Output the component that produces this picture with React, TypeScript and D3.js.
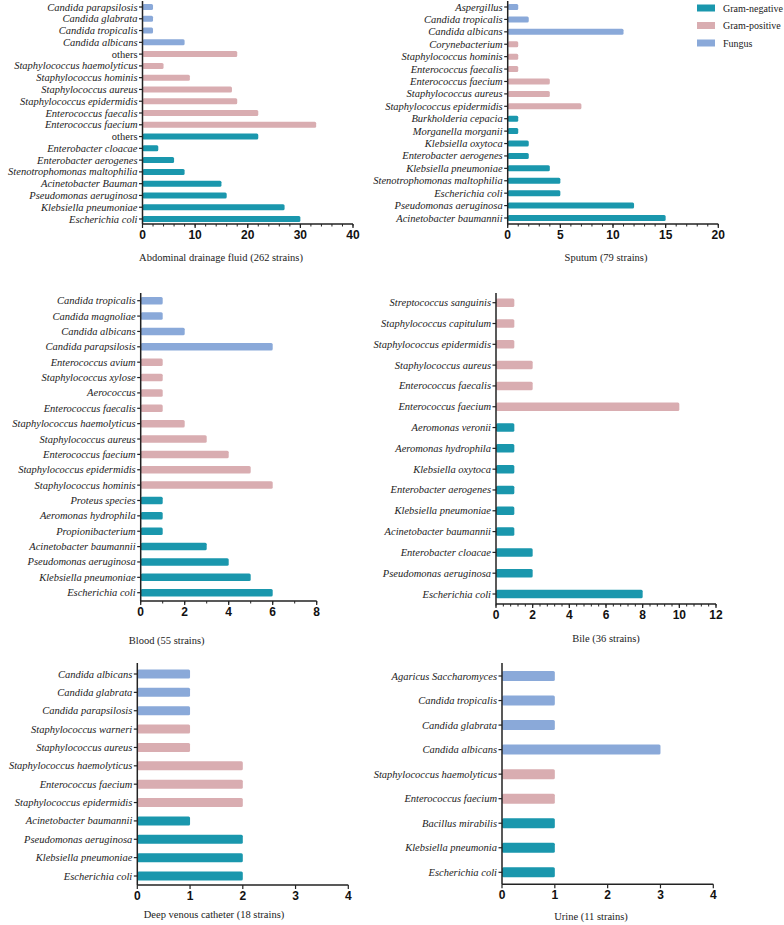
import * as React from 'react';
import * as d3 from 'd3';

// group codes: n = Gram-negative, p = Gram-positive, f = Fungus
const abdCategories = [
	'Candida parapsilosis', 'Candida glabrata', 'Candida tropicalis', 'Candida albicans',
	'others', 'Staphylococcus haemolyticus', 'Staphylococcus hominis', 'Staphylococcus aureus',
	'Staphylococcus epidermidis', 'Enterococcus faecalis', 'Enterococcus faecium',
	'others', 'Enterobacter cloacae', 'Enterobacter aerogenes', 'Stenotrophomonas maltophilia',
	'Acinetobacter Bauman', 'Pseudomonas aeruginosa', 'Klebsiella pneumoniae', 'Escherichia coli'
];
const abdValues = [2, 2, 2, 8, 18, 4, 9, 17, 18, 22, 33, 22, 3, 6, 8, 15, 16, 27, 30];
const abdGroups = 'ffffpppppppnnnnnnnn';

const sputumCategories = [
	'Aspergillus', 'Candida tropicalis', 'Candida albicans', 'Corynebacterium',
	'Staphylococcus hominis', 'Enterococcus faecalis', 'Enterococcus faecium',
	'Staphylococcus aureus', 'Staphylococcus epidermidis', 'Burkholderia cepacia',
	'Morganella morganii', 'Klebsiella oxytoca', 'Enterobacter aerogenes',
	'Klebsiella pneumoniae', 'Stenotrophomonas maltophilia', 'Escherichia coli',
	'Pseudomonas aeruginosa', 'Acinetobacter baumannii'
];
const sputumValues = [1, 2, 11, 1, 1, 1, 4, 4, 7, 1, 1, 2, 2, 4, 5, 5, 12, 15];
const sputumGroups = 'fffppppppnnnnnnnnn';

const bloodCategories = [
	'Candida tropicalis', 'Candida magnoliae', 'Candida albicans', 'Candida parapsilosis',
	'Enterococcus avium', 'Staphylococcus xylose', 'Aerococcus', 'Enterococcus faecalis',
	'Staphylococcus haemolyticus', 'Staphylococcus aureus', 'Enterococcus faecium',
	'Staphylococcus epidermidis', 'Staphylococcus hominis', 'Proteus species',
	'Aeromonas hydrophila', 'Propionibacterium', 'Acinetobacter baumannii',
	'Pseudomonas aeruginosa', 'Klebsiella pneumoniae', 'Escherichia coli'
];
const bloodValues = [1, 1, 2, 6, 1, 1, 1, 1, 2, 3, 4, 5, 6, 1, 1, 1, 3, 4, 5, 6];
const bloodGroups = 'ffffpppppppppnnnnnnn';

const bileCategories = [
	'Streptococcus sanguinis', 'Staphylococcus capitulum', 'Staphylococcus epidermidis',
	'Staphylococcus aureus', 'Enterococcus faecalis', 'Enterococcus faecium',
	'Aeromonas veronii', 'Aeromonas hydrophila', 'Klebsiella oxytoca',
	'Enterobacter aerogenes', 'Klebsiella pneumoniae', 'Acinetobacter baumannii',
	'Enterobacter cloacae', 'Pseudomonas aeruginosa', 'Escherichia coli'
];
const bileValues = [1, 1, 1, 2, 2, 10, 1, 1, 1, 1, 1, 1, 2, 2, 8];
const bileGroups = 'ppppppnnnnnnnnn';

const dvcCategories = [
	'Candida albicans', 'Candida glabrata', 'Candida parapsilosis', 'Staphylococcus warneri',
	'Staphylococcus aureus', 'Staphylococcus haemolyticus', 'Enterococcus faecium',
	'Staphylococcus epidermidis', 'Acinetobacter baumannii', 'Pseudomonas aeruginosa',
	'Klebsiella pneumoniae', 'Escherichia coli'
];
const dvcValues = [1, 1, 1, 1, 1, 2, 2, 2, 1, 2, 2, 2];
const dvcGroups = 'fffpppppnnnn';

const urineCategories = [
	'Agaricus Saccharomyces', 'Candida tropicalis', 'Candida glabrata', 'Candida albicans',
	'Staphylococcus haemolyticus', 'Enterococcus faecium', 'Bacillus mirabilis',
	'Klebsiella pneumonia', 'Escherichia coli'
];
const urineValues = [1, 1, 1, 3, 1, 1, 1, 1, 1];
const urineGroups = 'ffffppnnn';

const legendLabels = ['Gram-negative', 'Gram-positive', 'Fungus'];
const groupKeys = ['n', 'p', 'f'];

const color = d3.scaleOrdinal<string, string>().domain(groupKeys).range(['#1a97ad', '#d9adb1', '#8aa9d9']);

const serif = '"Liberation Serif", "Times New Roman", serif';
const sans = '"Liberation Sans", Arial, sans-serif';

const panels = [
	{
		cats: abdCategories, vals: abdValues, groups: abdGroups, title: 'Abdominal drainage fluid (262 strains)',
		x0: 142.5, x1: 353, axisY: 224, top: 1, c1: 7, cn: 219, barH: 6, max: 40, major: 10, minor: 2,
		titleX: 221, titleY: 261
	},
	{
		cats: sputumCategories, vals: sputumValues, groups: sputumGroups, title: 'Sputum (79 strains)',
		x0: 507.7, x1: 718.3, axisY: 224, top: 1, c1: 7, cn: 218, barH: 6, max: 20, major: 5, minor: 1,
		titleX: 606, titleY: 261
	},
	{
		cats: bloodCategories, vals: bloodValues, groups: bloodGroups, title: 'Blood (55 strains)',
		x0: 140.7, x1: 316.7, axisY: 601, top: 293, c1: 300.7, cn: 592.7, barH: 7.5, max: 8, major: 2, minor: 1,
		titleX: 166.7, titleY: 644
	},
	{
		cats: bileCategories, vals: bileValues, groups: bileGroups, title: 'Bile (36 strains)',
		x0: 496, x1: 716, axisY: 604, top: 293, c1: 302.7, cn: 594, barH: 8.5, max: 12, major: 2, minor: 0.4,
		titleX: 606, titleY: 642
	},
	{
		cats: dvcCategories, vals: dvcValues, groups: dvcGroups, title: 'Deep venous catheter  (18 strains)',
		x0: 137.3, x1: 348.3, axisY: 885, top: 663, c1: 674, cn: 876, barH: 9, max: 4, major: 1, minor: 0,
		titleX: 214, titleY: 918
	},
	{
		cats: urineCategories, vals: urineValues, groups: urineGroups, title: 'Urine (11 strains)',
		x0: 502, x1: 713.3, axisY: 884.3, top: 663, c1: 676, cn: 872.3, barH: 10, max: 4, major: 1, minor: 0,
		titleX: 591, titleY: 920
	}
];

function Panel({ p }: { p: any }) {
	const x = d3.scaleLinear().domain([0, p.max]).range([p.x0, p.x1]);
	const y = d3.scalePoint<number>().domain(d3.range(p.cats.length)).range([p.c1, p.cn]);
	const majors = d3.range(0, p.max + 1e-6, p.major);
	const minors = p.minor ? d3.range(0, p.max + 1e-6, p.minor) : [];
	return (
		<g>
			{p.cats.map((c: string, i: number) => (
				<g key={i}>
					<rect
						x={x(0)}
						y={(y(i) as number) - p.barH / 2}
						width={x(p.vals[i]) - x(0)}
						height={p.barH}
						rx={1.5}
						fill={color(p.groups[i])}
					/>
					<line x1={p.x0 - 3.5} x2={p.x0} y1={y(i)} y2={y(i)} stroke="#222" strokeWidth={1.2} />
					<text
						x={p.x0 - 5}
						y={(y(i) as number) + 3.5}
						textAnchor="end"
						fontFamily={serif}
						fontStyle={c === 'others' ? 'normal' : 'italic'}
						fontSize={10.5}
						fill="#222"
					>
						{c}
					</text>
				</g>
			))}
			<line x1={p.x0} x2={p.x0} y1={p.top} y2={p.axisY} stroke="#222" strokeWidth={1.5} />
			<line x1={p.x0} x2={p.x1} y1={p.axisY} y2={p.axisY} stroke="#222" strokeWidth={1.5} />
			{minors.map((t: number, i: number) => (
				<line key={'m' + i} x1={x(t)} x2={x(t)} y1={p.axisY} y2={p.axisY + 2.5} stroke="#222" strokeWidth={1} />
			))}
			{majors.map((t: number, i: number) => (
				<g key={'t' + i}>
					<line x1={x(t)} x2={x(t)} y1={p.axisY} y2={p.axisY + 4} stroke="#222" strokeWidth={1.2} />
					<text
						x={x(t)}
						y={p.axisY + 15}
						textAnchor="middle"
						fontFamily={sans}
						fontWeight="bold"
						fontSize={12}
						fill="#111"
					>
						{t}
					</text>
				</g>
			))}
			<text x={p.titleX} y={p.titleY} textAnchor="middle" fontFamily={serif} fontSize={10.5} fill="#222">
				{p.title}
			</text>
		</g>
	);
}

export default function App() {
	return (
		<svg
			width={784}
			height={925}
			viewBox="0 0 784 925"
			style={{ position: 'absolute', left: 0, top: 0, background: '#fff' }}
		>
			{panels.map((p, i) => (
				<Panel key={i} p={p} />
			))}
			{legendLabels.map((l, i) => (
				<g key={l}>
					<rect x={697} y={4.5 + i * 17.5} width={18} height={7} fill={color(groupKeys[i])} />
					<text x={723} y={11.5 + i * 17.5} fontFamily={serif} fontSize={10} fill="#222">
						{l}
					</text>
				</g>
			))}
		</svg>
	);
}
